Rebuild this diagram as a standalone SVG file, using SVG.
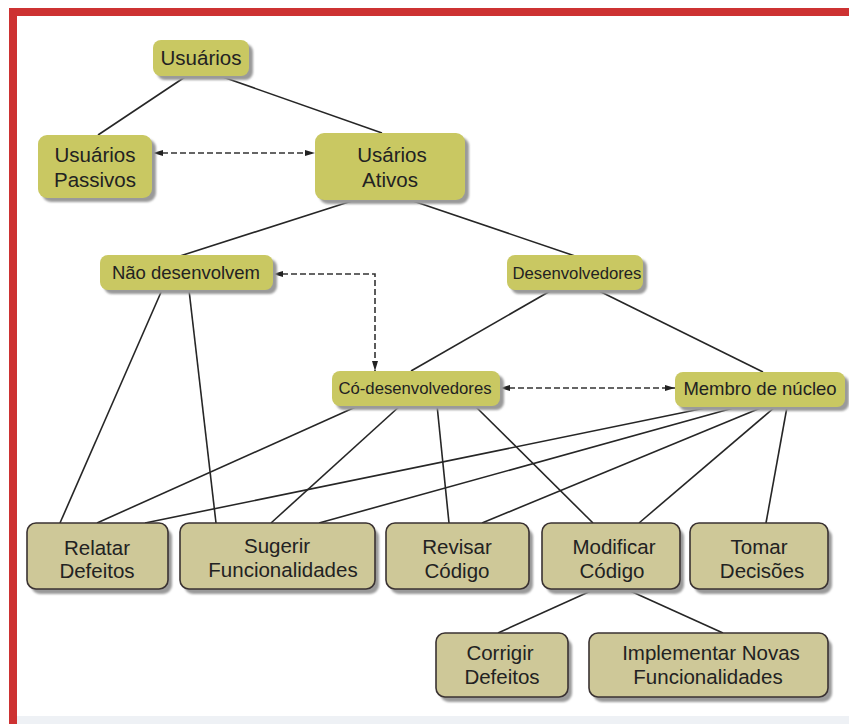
<svg xmlns="http://www.w3.org/2000/svg" width="849" height="724" viewBox="0 0 849 724">
<defs>
<style>
.t{font-family:"Liberation Sans",Arial,sans-serif;font-size:20.5px;fill:#222;text-anchor:middle}
.s{font-size:18.5px}
.xs{font-size:16.7px}
.y{fill:#c9c862}
.b{fill:#cec898;stroke:#3a3232;stroke-width:1.6}
.sh{fill:#9a9a9a;filter:url(#blur)}
.c{stroke:#262626;stroke-width:1.6;fill:none}
.d{stroke:#333;stroke-width:1.6;fill:none;stroke-dasharray:6 3;marker-start:url(#ah);marker-end:url(#ah)}
</style>
<filter id="blur" x="-10%" y="-10%" width="120%" height="130%"><feGaussianBlur stdDeviation="1.2"/></filter>
<marker id="ah" viewBox="0 0 10 8" refX="10" refY="4" markerWidth="10" markerHeight="8" markerUnits="userSpaceOnUse" orient="auto-start-reverse"><path d="M0,1 L10,4 L0,7 Z" fill="#222"/></marker>
</defs>
<rect x="0" y="0" width="849" height="724" fill="#ffffff"/>
<rect x="17" y="716" width="832" height="8" fill="#eef1f5"/>
<rect x="9" y="8" width="840" height="8" fill="#cd3232"/>
<rect x="9" y="8" width="8" height="716" fill="#cd3232"/>

<g id="connectors">
<line class="c" x1="188" y1="75" x2="98" y2="135"/>
<line class="c" x1="217" y1="75" x2="382" y2="133"/>
<line class="c" x1="355" y1="200" x2="180" y2="256"/>
<line class="c" x1="410" y1="200" x2="575" y2="256"/>
<line class="c" x1="162" y1="290" x2="60" y2="523"/>
<line class="c" x1="189" y1="290" x2="216" y2="523"/>
<line class="c" x1="552" y1="290" x2="411" y2="371"/>
<line class="c" x1="597" y1="290" x2="763" y2="372"/>
<line class="c" x1="360" y1="405" x2="97" y2="523"/>
<line class="c" x1="401" y1="405" x2="271" y2="523"/>
<line class="c" x1="437" y1="405" x2="449" y2="523"/>
<line class="c" x1="474" y1="405" x2="593" y2="523"/>
<line class="c" x1="710" y1="407" x2="145" y2="523"/>
<line class="c" x1="737" y1="407" x2="319" y2="523"/>
<line class="c" x1="763" y1="407" x2="482" y2="523"/>
<line class="c" x1="775" y1="407" x2="639" y2="523"/>
<line class="c" x1="787" y1="407" x2="766" y2="523"/>
<line class="c" x1="593" y1="590" x2="498" y2="633"/>
<line class="c" x1="628" y1="590" x2="723" y2="633"/>
<line class="d" x1="153" y1="153" x2="315" y2="153"/>
<path class="d" d="M273,274 H375 V371"/>
<line class="d" x1="500" y1="388" x2="675" y2="388"/>
</g>

<g id="usuarios">
<rect class="sh" x="157" y="44" width="96" height="36" rx="8"/>
<rect class="y" x="153" y="40" width="96" height="36" rx="8"/>
<text class="t" x="201" y="65">Usuários</text>
</g>
<g id="usuarios-passivos">
<rect class="sh" x="42" y="139" width="114" height="63" rx="9"/>
<rect class="y" x="38" y="135" width="114" height="63" rx="9"/>
<text class="t" x="95" y="162">Usuários</text>
<text class="t" x="95" y="187">Passivos</text>
</g>
<g id="usuarios-ativos">
<rect class="sh" x="319" y="137" width="150" height="67" rx="9"/>
<rect class="y" x="315" y="133" width="150" height="67" rx="9"/>
<text class="t" x="392" y="162">Usários</text>
<text class="t" x="390" y="187">Ativos</text>
</g>
<g id="nao-desenvolvem">
<rect class="sh" x="104" y="259" width="173" height="35" rx="8"/>
<rect class="y" x="100" y="255" width="173" height="35" rx="8"/>
<text class="t s" x="186" y="279">Não desenvolvem</text>
</g>
<g id="desenvolvedores">
<rect class="sh" x="511" y="259" width="136" height="35" rx="8"/>
<rect class="y" x="507" y="255" width="136" height="35" rx="8"/>
<text class="t xs" x="577" y="279">Desenvolvedores</text>
</g>
<g id="co-desenvolvedores">
<rect class="sh" x="336" y="375" width="168" height="35" rx="8"/>
<rect class="y" x="332" y="371" width="168" height="35" rx="8"/>
<text class="t xs" x="415" y="394">Có-desenvolvedores</text>
</g>
<g id="membro-de-nucleo">
<rect class="sh" x="679" y="376" width="170" height="35" rx="8"/>
<rect class="y" x="675" y="372" width="170" height="35" rx="8"/>
<text class="t s" x="760" y="395">Membro de núcleo</text>
</g>

<g id="relatar-defeitos">
<rect class="sh" x="31" y="528" width="141" height="66" rx="9"/>
<rect class="b" x="27" y="523" width="141" height="66" rx="9"/>
<text class="t" x="97" y="555">Relatar</text>
<text class="t" x="97" y="578">Defeitos</text>
</g>
<g id="sugerir-funcionalidades">
<rect class="sh" x="184" y="528" width="195" height="66" rx="9"/>
<rect class="b" x="180" y="523" width="195" height="66" rx="9"/>
<text class="t" x="277" y="553">Sugerir</text>
<text class="t" x="283" y="577">Funcionalidades</text>
</g>
<g id="revisar-codigo">
<rect class="sh" x="390" y="528" width="143" height="66" rx="9"/>
<rect class="b" x="386" y="523" width="143" height="66" rx="9"/>
<text class="t" x="457" y="554">Revisar</text>
<text class="t" x="457" y="578">Código</text>
</g>
<g id="modificar-codigo">
<rect class="sh" x="546" y="528" width="138" height="66" rx="9"/>
<rect class="b" x="542" y="523" width="138" height="66" rx="9"/>
<text class="t" x="614" y="554">Modificar</text>
<text class="t" x="612" y="578">Código</text>
</g>
<g id="tomar-decisoes">
<rect class="sh" x="694" y="528" width="138" height="66" rx="9"/>
<rect class="b" x="690" y="523" width="138" height="66" rx="9"/>
<text class="t" x="759" y="554">Tomar</text>
<text class="t" x="762" y="578">Decisões</text>
</g>
<g id="corrigir-defeitos">
<rect class="sh" x="440" y="638" width="132" height="64" rx="9"/>
<rect class="b" x="436" y="633" width="132" height="64" rx="9"/>
<text class="t" x="500" y="660">Corrigir</text>
<text class="t" x="502" y="684">Defeitos</text>
</g>
<g id="implementar-novas-funcionalidades">
<rect class="sh" x="593" y="638" width="239" height="64" rx="9"/>
<rect class="b" x="589" y="633" width="239" height="64" rx="9"/>
<text class="t" x="711" y="660">Implementar Novas</text>
<text class="t" x="708" y="684">Funcionalidades</text>
</g>
</svg>
